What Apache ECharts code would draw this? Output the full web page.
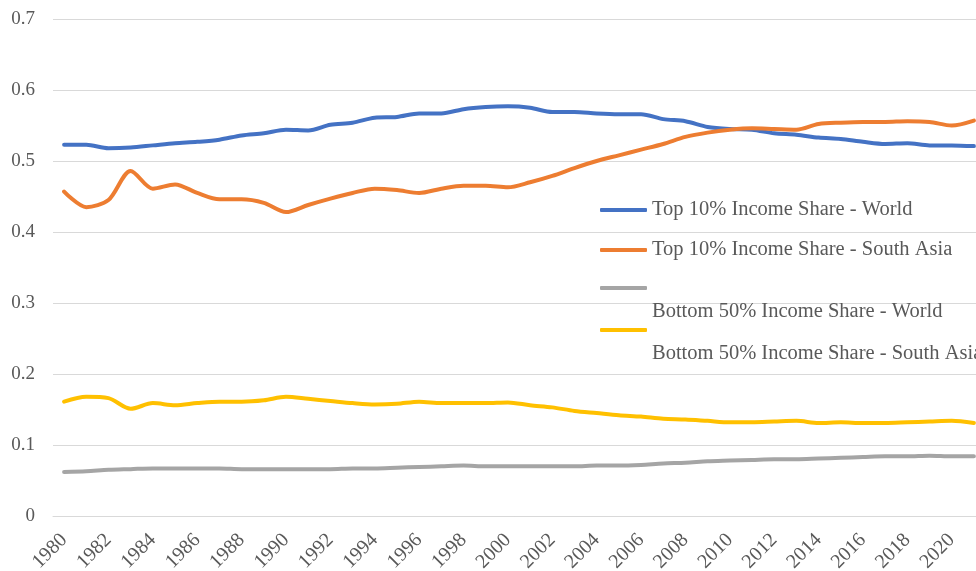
<!DOCTYPE html>
<html>
<head>
<meta charset="utf-8">
<script src="https://cdn.jsdelivr.net/npm/echarts@6/dist/echarts.min.js"></script>
<style>
  html, body { margin: 0; padding: 0; background: #fff; }
  #main { width: 976px; height: 571px; }
</style>
</head>
<body>
<div id="main"></div>
<script>
var years = [];
for (var y = 1980; y <= 2021; y++) years.push(String(y));

var top10World = [0.523, 0.523, 0.518, 0.519, 0.522, 0.525, 0.527, 0.530, 0.536, 0.539,
  0.544, 0.543, 0.551, 0.554, 0.561, 0.562, 0.567, 0.567, 0.573, 0.576,
  0.577, 0.575, 0.569, 0.569, 0.567, 0.566, 0.566, 0.559, 0.556, 0.548,
  0.545, 0.544, 0.539, 0.537, 0.533, 0.531, 0.527, 0.524, 0.525, 0.522,
  0.522, 0.521];
var top10SouthAsia = [0.457, 0.435, 0.445, 0.486, 0.461, 0.467, 0.455, 0.446, 0.446, 0.441,
  0.428, 0.438, 0.447, 0.455, 0.461, 0.459, 0.455, 0.461, 0.465, 0.465,
  0.463, 0.470, 0.479, 0.490, 0.500, 0.508, 0.516, 0.524, 0.534, 0.540,
  0.544, 0.546, 0.545, 0.544, 0.552, 0.554, 0.555, 0.555, 0.556, 0.555,
  0.550, 0.557];
var bottom50World = [0.062, 0.063, 0.065, 0.066, 0.067, 0.067, 0.067, 0.067, 0.066, 0.066,
  0.066, 0.066, 0.066, 0.067, 0.067, 0.068, 0.069, 0.070, 0.071, 0.070,
  0.070, 0.070, 0.070, 0.070, 0.071, 0.071, 0.072, 0.074, 0.075, 0.077,
  0.078, 0.079, 0.080, 0.080, 0.081, 0.082, 0.083, 0.084, 0.084, 0.085,
  0.084, 0.084];
var bottom50SouthAsia = [0.161, 0.168, 0.166, 0.151, 0.159, 0.156, 0.159, 0.161, 0.161, 0.163,
  0.168, 0.165, 0.162, 0.159, 0.157, 0.158, 0.161, 0.159, 0.159, 0.159,
  0.160, 0.156, 0.153, 0.148, 0.145, 0.142, 0.140, 0.137, 0.136, 0.134,
  0.132, 0.132, 0.133, 0.134, 0.131, 0.132, 0.131, 0.131, 0.132, 0.133,
  0.134, 0.131];

var names = ['Top 10% Income Share - World', 'Top 10% Income Share - South Asia',
  'Bottom 50% Income Share - World', 'Bottom 50% Income Share - South Asia'];
var colors = ['#4472C4', '#ED7D31', '#A5A5A5', '#FFC000'];

var font = 'Liberation Serif';
var chart = echarts.init(document.getElementById('main'));

// one legend per item so each row can sit where Excel put it
function legendFor(i, top, shifted) {
  return {
    data: [names[i]],
    left: 595,
    top: top,
    icon: 'roundRect',
    itemWidth: 47,
    itemHeight: 4,
    formatter: shifted ? '\n\n{name}' : '{name}',
    textStyle: { fontFamily: font, fontSize: 20.5, color: '#595959', lineHeight: 24 },
    selectedMode: false
  };
}

var option = {
  animation: false,
  color: colors,
  grid: { left: 53, top: 19, width: 932, height: 497, outerBoundsMode: 'none' },
  legend: [
    legendFor(0, 193, false),
    legendFor(1, 233, false),
    legendFor(2, 247, true),
    legendFor(3, 289, true)
  ],
  xAxis: {
    type: 'category',
    data: years,
    boundaryGap: true,
    axisLine: { lineStyle: { color: '#d9d9d9' } },
    axisTick: { show: false },
    axisLabel: {
      interval: 1,
      rotate: 45,
      fontFamily: font,
      fontSize: 20,
      color: '#595959',
      margin: 21
    }
  },
  yAxis: {
    type: 'value',
    min: 0,
    max: 0.7,
    interval: 0.1,
    axisLine: { show: false },
    axisTick: { show: false },
    splitLine: { lineStyle: { color: '#d9d9d9', width: 1 } },
    axisLabel: {
      fontFamily: font,
      fontSize: 19,
      color: '#595959',
      margin: 18,
      formatter: function (v) { return String(Math.round(v * 10) / 10); }
    }
  },
  series: [top10World, top10SouthAsia, bottom50World, bottom50SouthAsia].map(function (d, i) {
    return {
      name: names[i],
      type: 'line',
      data: d,
      smooth: 0.3,
      symbol: 'none',
      lineStyle: { width: 4, color: colors[i], cap: 'round' }
    };
  })
};

chart.setOption(option);
</script>
</body>
</html>
